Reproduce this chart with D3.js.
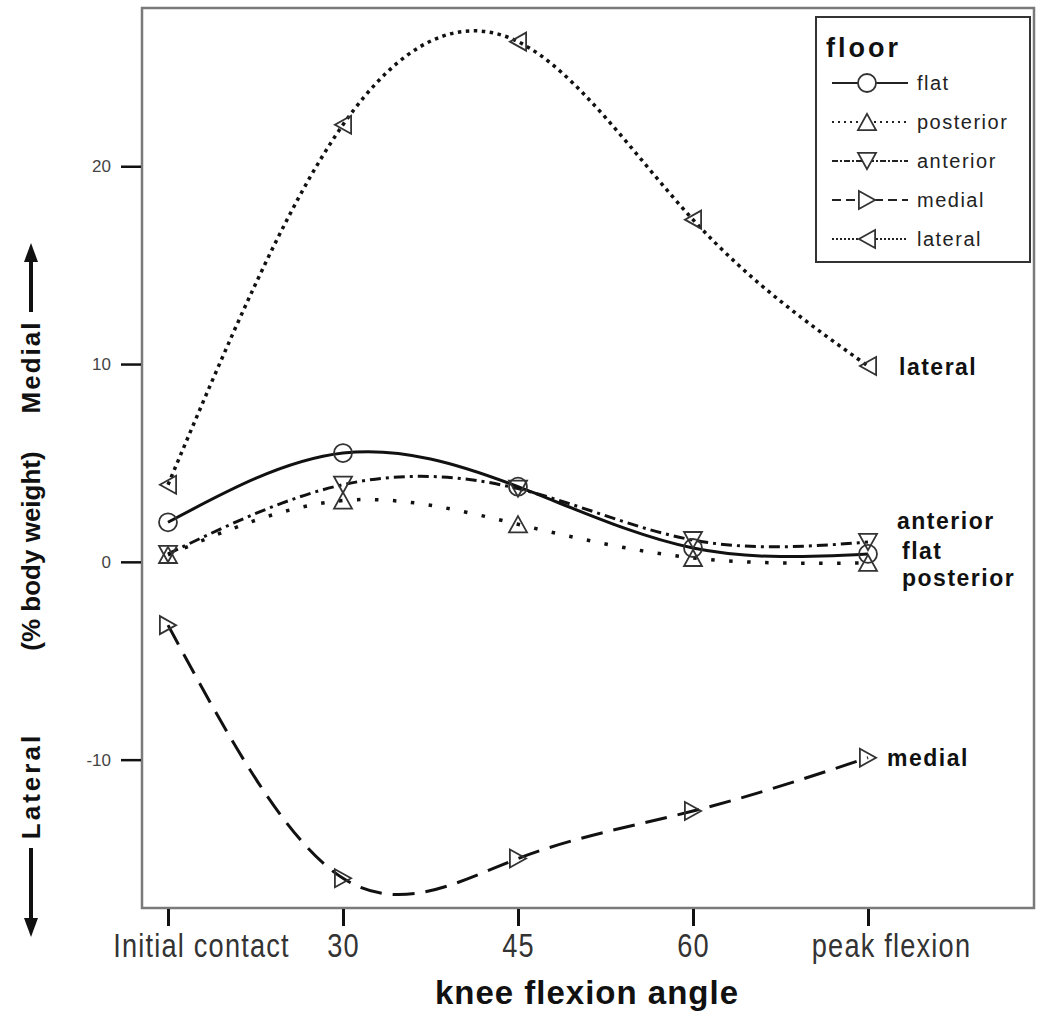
<!DOCTYPE html>
<html>
<head>
<meta charset="utf-8">
<script src="https://cdn.jsdelivr.net/npm/d3@7"></script>
<style>
  body { margin: 0; background: #fff; }
  text { font-family: "Liberation Sans", Arial, sans-serif; }
</style>
</head>
<body>
<div id="chart"></div>
<script>
// data
const stages = ["Initial contact", "30", "45", "60", "peak flexion"];
const floors = ["flat", "posterior", "anterior", "medial", "lateral"];
const flat = [2.0, 5.5, 3.8, 0.7, 0.4];
const posterior = [0.35, 3.1, 1.9, 0.2, -0.05];
const anterior = [0.4, 3.9, 3.7, 1.1, 1.0];
const medial = [-3.2, -16.0, -15.0, -12.6, -9.9];
const lateral = [3.9, 22.1, 26.3, 17.3, 9.9];
const yTicks = [-10, 0, 10, 20];

const values = { flat, posterior, anterior, medial, lateral };

const width = 1037, height = 1024;
const frame = { left: 142, top: 8, right: 1034, bottom: 908 };

// line / marker styles per floor
const styles = {
  flat:      { dash: null,        w: 3.0, marker: "circle" },
  posterior: { dash: "3.5,14.5",  w: 3.5, marker: "up" },
  anterior:  { dash: "11,5,3,5",  w: 3.0, marker: "down" },
  medial:    { dash: "22,11",     w: 3.0, marker: "right" },
  lateral:   { dash: "3.5,4.5",   w: 3.5, marker: "left" }
};
const legendDash = {
  flat: null, posterior: "2,4", anterior: "6,2,2,2", medial: "9,5", lateral: "2,2"
};
// end-of-line label offsets (px) from last point
const labelOffsets = {
  lateral: [31, 9], anterior: [29, -13], flat: [34, 5], posterior: [34, 23], medial: [19, 8]
};
// the long tick labels sit a bit right of their ticks in the original
const tickShift = { "Initial contact": 33, "peak flexion": 23 };

const svg = d3.select("#chart").append("svg")
  .attr("width", width)
  .attr("height", height);

const x = d3.scalePoint()
  .domain(stages)
  .range([168, 868]);

const y = d3.scaleLinear()
  .domain([-17.5, 28])
  .range([frame.bottom, frame.top]);

function markerPath(type, s) {
  if (type === "circle") return d3.symbol(d3.symbolCircle, Math.PI * s * s)();
  let h = s * 0.9;
  if (type === "up") return `M0,${-h}L${s},${h}L${-s},${h}Z`;
  if (type === "down") return `M0,${h}L${s},${-h}L${-s},${-h}Z`;
  if (type === "right") return `M${h},0L${-h},${s}L${-h},${-s}Z`;
  return `M${-h},0L${h},${s}L${h},${-s}Z`;
}

// frame
svg.append("rect")
  .attr("x", frame.left)
  .attr("y", frame.top)
  .attr("width", frame.right - frame.left)
  .attr("height", frame.bottom - frame.top)
  .attr("fill", "none")
  .attr("stroke", "#7a7a7a")
  .attr("stroke-width", 2.5);

// y axis
const yAxis = svg.append("g")
  .attr("transform", `translate(${frame.left - 1},0)`)
  .call(d3.axisLeft(y).tickValues(yTicks).tickSize(20).tickPadding(10).tickFormat(d => String(d)));
yAxis.select(".domain").remove();
yAxis.selectAll(".tick line").attr("stroke", "#111").attr("stroke-width", 2.5);
yAxis.selectAll(".tick text")
  .attr("fill", "#444")
  .style("font-size", "17px");

// x axis
const xAxis = svg.append("g")
  .attr("transform", `translate(0,${frame.bottom + 1})`)
  .call(d3.axisBottom(x).tickSize(17).tickPadding(7));
xAxis.select(".domain").remove();
xAxis.selectAll(".tick line").attr("stroke", "#111").attr("stroke-width", 3);
xAxis.selectAll(".tick text")
  .attr("fill", "#333")
  .attr("transform", d => `translate(${tickShift[d] || 0},0) scale(0.8,1)`)
  .style("font-size", "34px")
  .style("letter-spacing", "1.5px");

svg.append("text")
  .attr("x", 587)
  .attr("y", 1004)
  .attr("text-anchor", "middle")
  .style("font-size", "33px")
  .style("font-weight", "bold")
  .style("letter-spacing", "1px")
  .attr("fill", "#111")
  .text("knee flexion angle");

// y title with arrows
const yt = svg.append("g").attr("transform", "translate(31,0)");
[["Medial", 367, 2], ["(% body weight)", 551, 0], ["Lateral", 786, 3]].forEach(([t, cy, ls]) => {
  yt.append("text")
    .attr("transform", `translate(9,${cy}) rotate(-90)`)
    .attr("text-anchor", "middle")
    .style("font-size", "26px")
    .style("font-weight", "bold")
    .style("letter-spacing", ls + "px")
    .attr("fill", "#111")
    .text(t);
});
yt.append("line").attr("x1", 0).attr("x2", 0).attr("y1", 312).attr("y2", 258)
  .attr("stroke", "#111").attr("stroke-width", 4);
yt.append("path").attr("d", "M0,243L-7,262L7,262Z").attr("fill", "#111");
yt.append("line").attr("x1", 0).attr("x2", 0).attr("y1", 848).attr("y2", 922)
  .attr("stroke", "#111").attr("stroke-width", 4);
yt.append("path").attr("d", "M0,937L-7,918L7,918Z").attr("fill", "#111");

// lines
const line = d3.line()
  .x((d, i) => x(stages[i]))
  .y(d => y(d))
  .curve(d3.curveNatural);

floors.forEach(f => {
  svg.append("path")
    .datum(values[f])
    .attr("d", line)
    .attr("fill", "none")
    .attr("stroke", "#111")
    .attr("stroke-width", styles[f].w)
    .attr("stroke-dasharray", styles[f].dash);
});

// markers
floors.forEach(f => {
  svg.append("g").selectAll("path")
    .data(values[f])
    .enter().append("path")
    .attr("transform", (d, i) => `translate(${x(stages[i])},${y(d)})`)
    .attr("d", markerPath(styles[f].marker, 9))
    .attr("fill", "none")
    .attr("stroke", "#333")
    .attr("stroke-width", 1.8);
});

// end labels
floors.forEach(f => {
  const v = values[f];
  svg.append("text")
    .attr("x", x(stages[stages.length - 1]) + labelOffsets[f][0])
    .attr("y", y(v[v.length - 1]) + labelOffsets[f][1])
    .style("font-size", "23px")
    .style("font-weight", "bold")
    .style("letter-spacing", "1.5px")
    .attr("fill", "#111")
    .text(f);
});

// legend
const lg = svg.append("g");
lg.append("rect")
  .attr("x", 816).attr("y", 17)
  .attr("width", 214).attr("height", 245)
  .attr("fill", "#fff")
  .attr("stroke", "#333")
  .attr("stroke-width", 2);
lg.append("text")
  .attr("x", 826).attr("y", 57)
  .style("font-size", "27px")
  .style("font-weight", "bold")
  .style("letter-spacing", "3px")
  .attr("fill", "#111")
  .text("floor");
const legendY = d3.scalePoint().domain(floors).range([83, 239]);
floors.forEach(f => {
  const ly = legendY(f);
  lg.append("line")
    .attr("x1", 832).attr("x2", 908)
    .attr("y1", ly).attr("y2", ly)
    .attr("stroke", "#222")
    .attr("stroke-width", 1.8)
    .attr("stroke-dasharray", legendDash[f]);
  lg.append("path")
    .attr("transform", `translate(867,${ly})`)
    .attr("d", markerPath(styles[f].marker, 9))
    .attr("fill", "#fff")
    .attr("stroke", "#333")
    .attr("stroke-width", 1.8);
  lg.append("text")
    .attr("x", 917).attr("y", ly + 7)
    .style("font-size", "20px")
    .style("letter-spacing", "1.5px")
    .attr("fill", "#222")
    .text(f);
});
</script>
</body>
</html>
